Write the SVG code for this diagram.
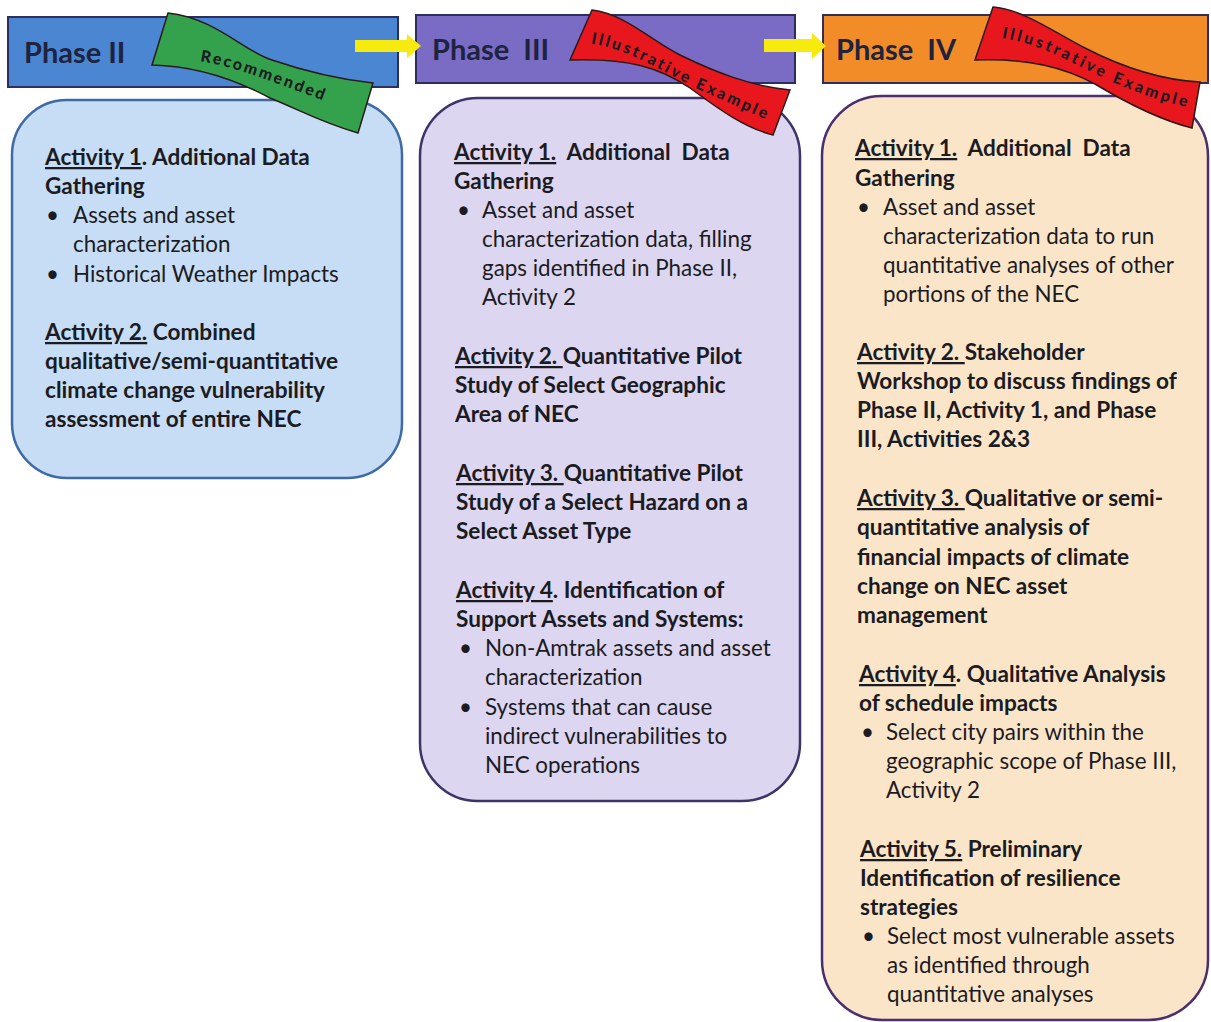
<svg xmlns="http://www.w3.org/2000/svg" width="1211" height="1022" viewBox="0 0 1211 1022">
<style>
  text { font-family: Lato, "Liberation Sans", sans-serif; fill: #1b1b22; }
  .t { font-size: 22.6px; font-weight: 700; }
  .r { font-weight: 400; font-size: 22.4px; }
  .u { text-decoration: underline; }
  .h { font-size: 29px; font-weight: 700; fill: #1e2340; }
  .w { font-size: 16px; font-weight: 900; }
  .box { stroke-width: 2.5; }
  .hdr { stroke: #2c2f5e; stroke-width: 2; }
  .ban { stroke: #2a1a1a; stroke-width: 1.5; }
  .arr { fill: #f6ea0e; stroke: none; }
</style>
<defs>
  <path id="p2" d="M186,60 C 225,62 262,78 338,106"/>
  <path id="p3" d="M588,43 C 630,49 660,71 700,90 C 730,103 750,113 770,121"/>
  <path id="p4" d="M994,37 C 1040,42 1070,63 1110,81 C 1140,94 1165,103 1197,109"/>
</defs>

<g id="phase2">
  <rect class="box" x="12" y="100" width="390" height="378" rx="55" ry="55" fill="#c7ddf5" stroke="#3e6aa6"/>
  <rect class="hdr" x="8" y="17" width="390" height="70" fill="#4a86d2"/>
  <text class="h" x="24" y="63">Phase II</text>
  <path class="ban" d="M168,13 C 215,18 245,52 272,60 C 310,73 345,80 373,83 L 358,133 C 320,122 300,110 270,98 C 240,82 200,66 152,65 Z" fill="#34a24d" stroke="#1e3a1e"/>
  <text class="w" fill="#1d2a1d" letter-spacing="2.2" text-anchor="middle"><textPath href="#p2" startOffset="50%">Recommended</textPath></text>
  <text class="t" x="45" y="165"><tspan class="u">Activity 1</tspan>. Additional Data</text>
  <text class="t" x="45" y="194">Gathering</text>
  <text class="t r" x="46" y="223">•</text>
  <text class="t r" x="73" y="223">Assets and asset</text>
  <text class="t r" x="73" y="252">characterization</text>
  <text class="t r" x="46" y="282">•</text>
  <text class="t r" x="73" y="282">Historical Weather Impacts</text>
  <text class="t" x="45" y="340"><tspan class="u">Activity 2.</tspan> Combined</text>
  <text class="t" x="45" y="369">qualitative/semi-quantitative</text>
  <text class="t" x="45" y="398">climate change vulnerability</text>
  <text class="t" x="45" y="427">assessment of entire NEC</text>
</g>

<g id="phase3">
  <rect class="box" x="420" y="98" width="380" height="703" rx="58" ry="58" fill="#ddd6f1" stroke="#3d3468"/>
  <rect class="hdr" x="416" y="15" width="379" height="68" fill="#7a6cc4"/>
  <text class="h" x="432" y="60" xml:space="preserve">Phase  III</text>
  <path class="ban" d="M592,10 C 625,14 650,40 680,55 C 715,72 750,86 790,90 L 773,135 C 745,128 720,110 690,88 C 660,68 630,58 570,60 Z" fill="#e8161d"/>
  <text class="w" fill="#2b1111" font-size="14" letter-spacing="2.6" text-anchor="middle"><textPath href="#p3" startOffset="50%">Illustrative Example</textPath></text>
  <text class="t" x="454" y="160" xml:space="preserve"><tspan class="u">Activity 1.</tspan>  Additional  Data</text>
  <text class="t" x="454" y="189">Gathering</text>
  <text class="t r" x="457" y="218">•</text>
  <text class="t r" x="482" y="218">Asset and asset</text>
  <text class="t r" x="482" y="247">characterization data, filling</text>
  <text class="t r" x="482" y="276">gaps identified in Phase II,</text>
  <text class="t r" x="482" y="305">Activity 2</text>
  <text class="t" x="455" y="364"><tspan class="u">Activity 2. </tspan>Quantitative Pilot</text>
  <text class="t" x="455" y="393">Study of Select Geographic</text>
  <text class="t" x="455" y="422">Area of NEC</text>
  <text class="t" x="456" y="481"><tspan class="u">Activity 3. </tspan>Quantitative Pilot</text>
  <text class="t" x="456" y="510">Study of a Select Hazard on a</text>
  <text class="t" x="456" y="539">Select Asset Type</text>
  <text class="t" x="456" y="598"><tspan class="u">Activity 4</tspan>. Identification of</text>
  <text class="t" x="456" y="627">Support Assets and Systems:</text>
  <text class="t r" x="459" y="656">•</text>
  <text class="t r" x="485" y="656">Non-Amtrak assets and asset</text>
  <text class="t r" x="485" y="685">characterization</text>
  <text class="t r" x="459" y="715">•</text>
  <text class="t r" x="485" y="715">Systems that can cause</text>
  <text class="t r" x="485" y="744">indirect vulnerabilities to</text>
  <text class="t r" x="485" y="773">NEC operations</text>
</g>

<g id="phase4">
  <rect class="box" x="822" y="96" width="386" height="924" rx="60" ry="60" fill="#fbe5c9" stroke="#4a2e6e"/>
  <rect class="hdr" x="823" y="15" width="385" height="68" fill="#f28c28"/>
  <text class="h" x="836" y="60" xml:space="preserve">Phase  IV</text>
  <path class="ban" d="M993,7 C 1025,10 1055,33 1085,48 C 1120,66 1160,80 1200,82 L 1192,128 C 1160,120 1130,105 1095,84 C 1065,68 1030,58 975,60 Z" fill="#e8161d"/>
  <text class="w" fill="#2b1111" font-size="14" letter-spacing="3" text-anchor="middle"><textPath href="#p4" startOffset="50%">Illustrative Example</textPath></text>
  <text class="t" x="855" y="156" xml:space="preserve"><tspan class="u">Activity 1.</tspan>  Additional  Data</text>
  <text class="t" x="855" y="186">Gathering</text>
  <text class="t r" x="857" y="215">•</text>
  <text class="t r" x="883" y="215">Asset and asset</text>
  <text class="t r" x="883" y="244">characterization data to run</text>
  <text class="t r" x="883" y="273">quantitative analyses of other</text>
  <text class="t r" x="883" y="302">portions of the NEC</text>
  <text class="t" x="857" y="360"><tspan class="u">Activity 2. </tspan>Stakeholder</text>
  <text class="t" x="857" y="389">Workshop to discuss findings of</text>
  <text class="t" x="857" y="418">Phase II, Activity 1, and Phase</text>
  <text class="t" x="857" y="447">III, Activities 2&amp;3</text>
  <text class="t" x="857" y="506"><tspan class="u">Activity 3. </tspan>Qualitative or semi-</text>
  <text class="t" x="857" y="535">quantitative analysis of</text>
  <text class="t" x="857" y="565">financial impacts of climate</text>
  <text class="t" x="857" y="594">change on NEC asset</text>
  <text class="t" x="857" y="623">management</text>
  <text class="t" x="859" y="682"><tspan class="u">Activity 4</tspan>. Qualitative Analysis</text>
  <text class="t" x="859" y="711">of schedule impacts</text>
  <text class="t r" x="861" y="740">•</text>
  <text class="t r" x="886" y="740">Select city pairs within the</text>
  <text class="t r" x="886" y="769">geographic scope of Phase III,</text>
  <text class="t r" x="886" y="798">Activity 2</text>
  <text class="t" x="860" y="857"><tspan class="u">Activity 5.</tspan> Preliminary</text>
  <text class="t" x="860" y="886">Identification of resilience</text>
  <text class="t" x="860" y="915">strategies</text>
  <text class="t r" x="862" y="944">•</text>
  <text class="t r" x="887" y="944">Select most vulnerable assets</text>
  <text class="t r" x="887" y="973">as identified through</text>
  <text class="t r" x="887" y="1002">quantitative analyses</text>
</g>

<g id="connectors">
  <polygon class="arr" points="355,40 407,40 407,34 421,46 407,58 407,52 355,52"/>
  <polygon class="arr" points="764,39 812,39 812,33 826,46 812,59 812,52 764,52"/>
</g>
</svg>
